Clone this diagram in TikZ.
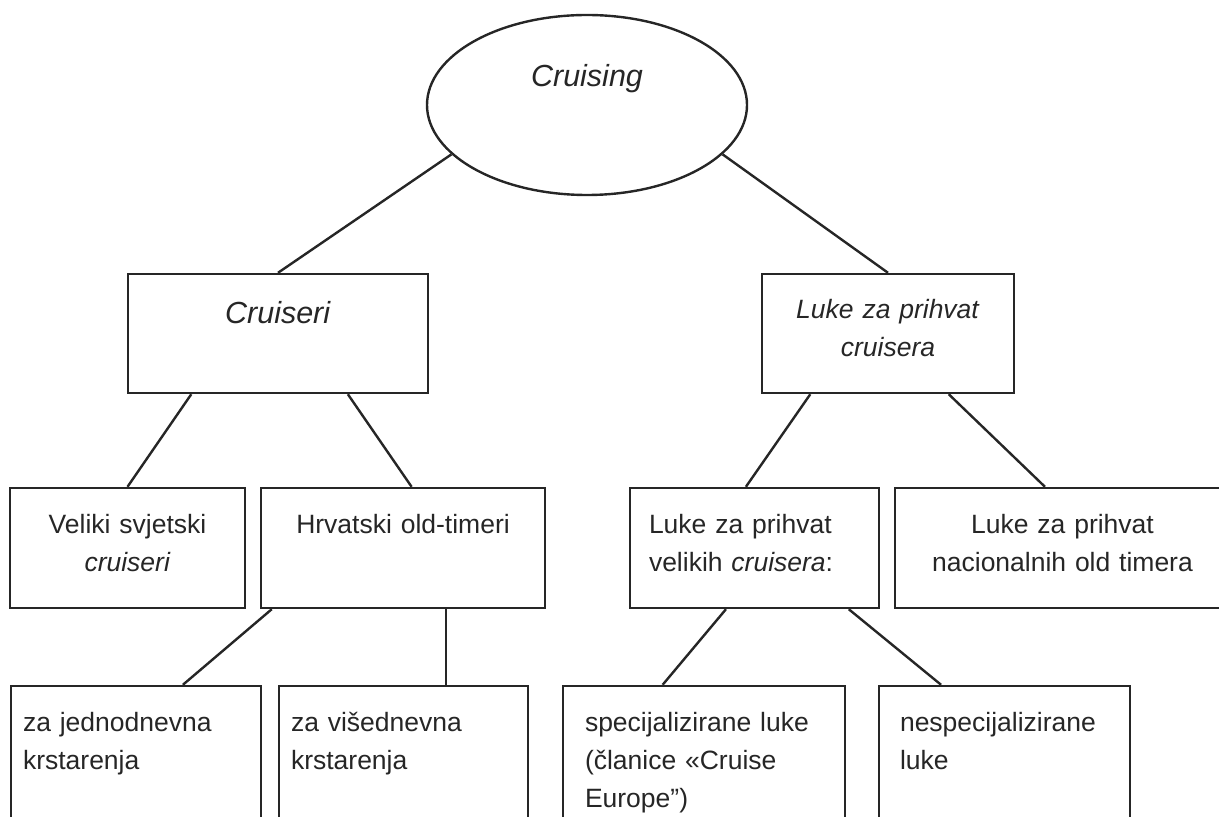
\documentclass[tikz,border=0pt]{standalone}
\usepackage{fontspec}
\setmainfont{Liberation Sans}
\usepackage{tikz}
\usetikzlibrary{shapes}
\tikzset{
	oval/.style     = {draw, ellipse, minimum width = 160pt, minimum height = 90pt,
		text height = 10pt, text depth = 28pt},
	box/.style      = {draw, rectangle, inner sep = 0pt, align = center,
		text height = 22.5pt, text depth = 37.5pt},
	lbox/.style     = {box, align = left},
	leaf/.style     = {box, align = left, text height = 22.5pt, text depth = 57.5pt}
}
\newcommand{\kurz}[1]{\textit{#1}}
\newcommand{\naslov}[1]{{\fontsize{15.25pt}{19pt}\selectfont\textit{#1}}}

\begin{document}
\begin{tikzpicture}[x=0.5pt, y=-0.5pt, line width=1.2pt, draw=black!85, text=black!85,
	font=\fontsize{13.25pt}{19pt}\selectfont]
	\useasboundingbox (0,0) rectangle (1219,817);
	\clip (0,0) rectangle (1219,817);
	\draw
	node at (587,105)[oval] (cruising) {\naslov{Cruising}}
	node at (278,333.5)[box, text width = 150pt, text height = 25pt, text depth = 34.5pt] (cruiseri) {\naslov{Cruiseri}}
	node at (888,333.5)[box, text width = 126pt, text depth = 37pt] (lukec) {\kurz{Luke za prihvat}\\ \kurz{cruisera}}
	node at (127.5,548)[box, text width = 117.5pt] (veliki) {Veliki svjetski\\ \kurz{cruiseri}}
	node at (403,548)[box, text width = 142pt] (hrvatski) {Hrvatski old-timeri}
	node at (754.5,548)[lbox, text width = 105.5pt, inner xsep = 9.5pt] (velikih) {Luke za prihvat\\ velikih \kurz{cruisera}:}
	node at (1062.5,548)[box, text width = 167.5pt] (nacion) {Luke za prihvat\\ nacionalnih old timera};
	
	\draw
	node at (136,766)[leaf, text width = 113pt, inner xsep = 6pt] (jedno) {za jednodnevna\\ krstarenja}
	node at (403.5,766)[leaf, text width = 112.5pt, inner xsep = 6pt] (visedn) {za višednevna\\ krstarenja}
	node at (704,766)[leaf, text width = 119pt, inner xsep = 11pt] (spec) {specijalizirane luke\\ (članice «Cruise\\ Europe")}
	node at (1004.5,766)[leaf, text width = 104.5pt, inner xsep = 10.5pt] (nespec) {nespecijalizirane\\ luke};
	
	\draw (cruising.200) -- (cruiseri.north);
	\draw (cruising.340) -- (lukec.north);
	\draw (cruiseri.215) -- (veliki.north);
	\draw (cruiseri.319) -- (hrvatski.82);
	\draw (lukec.218) -- (velikih.98);
	\draw (lukec.315) -- (nacion.106);
	\draw (hrvatski.205) -- (jedno.60);
	\draw (hrvatski.305) -- (hrvatski.305 |- visedn.north);
	\draw (velikih.245) -- (spec.117);
	\draw (velikih.327) -- (nespec.128);
\end{tikzpicture}
\end{document}
